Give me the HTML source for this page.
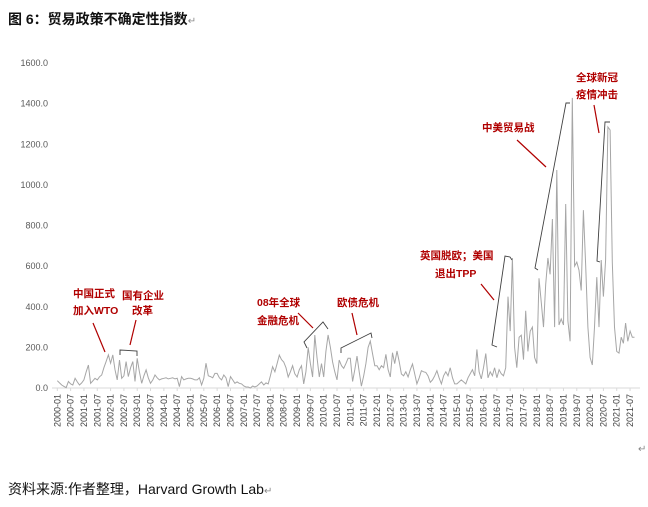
<!DOCTYPE html>
<html><head><meta charset="utf-8">
<style>
body{margin:0;background:#fff;width:648px;height:507px;overflow:hidden;font-family:"Liberation Sans","Noto Sans CJK SC",sans-serif;}
svg{position:absolute;left:0;top:0}
.t{position:absolute;}
</style></head><body>
<div class="t" style="left:8px;top:9px;font-size:14px;font-weight:bold;color:#111;">图 6：贸易政策不确定性指数<span style="font-weight:normal;font-size:10px;color:#888">↵</span></div>
<div class="t" style="left:8px;top:479px;font-size:14px;color:#111;">资料来源:作者整理，Harvard Growth Lab<span style="font-size:10px;color:#888">↵</span></div>
<div class="t" style="left:638px;top:444px;font-size:10px;color:#888">↵</div>
<svg id="chart" width="648" height="507"></svg>
<script>
const yTicks=[0,200,400,600,800,1000,1200,1400,1600];
const xTickLabels=[];
for(let y=2000;y<=2021;y++){xTickLabels.push(y+"-01");xTickLabels.push(y+"-07");}
const startYear=2000;
const values=[
36,25,15,8,2,32,20,15,48,30,15,25,
40,80,113,23,35,48,40,55,64,100,130,163,
122,163,90,40,138,48,60,130,56,100,130,32,
146,80,23,60,89,50,23,40,64,50,40,45,
48,50,45,48,50,45,48,7,56,40,45,48,
48,45,40,40,50,15,48,122,60,56,50,72,
72,50,40,64,50,7,56,40,23,30,23,20,
10,5,5,0,10,5,10,20,30,15,25,20,
60,105,80,120,162,140,128,100,54,80,110,70,
54,90,110,20,80,200,120,54,261,150,54,120,
54,180,261,200,128,80,40,138,110,97,120,146,
146,32,90,157,80,9,60,120,200,231,170,110,
110,90,110,100,166,90,54,174,120,182,130,69,
60,80,54,90,118,70,20,50,85,80,77,60,
28,40,60,85,50,20,60,80,60,100,50,20,
20,30,40,30,20,50,70,90,60,190,80,45,
100,170,50,80,60,100,50,90,70,60,100,450,
280,640,200,100,250,260,140,380,180,280,300,150,
120,540,420,300,510,640,560,832,300,1073,310,340,
310,906,330,230,1428,600,620,580,480,876,600,300,
150,113,300,546,300,630,450,630,1285,1270,620,300,
180,172,250,220,320,230,280,250,250];
const NS="http://www.w3.org/2000/svg";
const svg=document.getElementById('chart');
const X0=57.3,MW=2.22,Y0=388,YS=325/1600;
const xs=m=>X0+m*MW, ys=v=>Y0-v*YS;
function mk(t,a){const e=document.createElementNS(NS,t);for(const k in a)e.setAttribute(k,a[k]);svg.appendChild(e);return e;}
// axis
const ax=mk('line',{x1:52,y1:Y0,x2:640,y2:Y0,stroke:'#d9d9d9','stroke-width':1});


yTicks.forEach(v=>{
 const t=mk('text',{x:48,y:ys(v)+3,'text-anchor':'end','font-size':9,fill:'#595959','font-family':'Liberation Sans, sans-serif'});
 t.textContent=v.toFixed(1);
 
 
});
xTickLabels.forEach((lab,i)=>{
 const x=xs(i*6);
 const tk=mk('line',{x1:x,y1:Y0,x2:x,y2:Y0+3,stroke:'#d9d9d9'});
 
 
 const t=mk('text',{x:0,y:0,'text-anchor':'end','font-size':9,fill:'#404040','font-family':'Liberation Sans, sans-serif',transform:`translate(${x+3},${Y0+6}) rotate(-90)`});
 t.textContent=lab;
 
 
});
const pts=values.map((v,i)=>xs(i).toFixed(1)+','+ys(v).toFixed(1)).join(' ');
const pl=mk('polyline',{points:pts,fill:'none',stroke:'#a6a6a6','stroke-width':1});


// annotations
const red='#b00000';
const anns=[
 ['wto-annotation',[['中国正式',73,297],['加入WTO',73,314]],[93,323,105,352],[]],
 ['soe-reform-annotation',[['国有企业',122,299],['改革',132,314]],[136,320,130,345],[[120,355],[120,350],[137,351],[137,356]]],
 ['financial-crisis-annotation',[['08年全球',257,306],['金融危机',257,324]],[298,313,313,328],[[307,348],[304,342],[323,322],[328,329]]],
 ['euro-debt-annotation',[['欧债危机',337,306]],[352,313,357,335],[[341,353],[341,348],[371,333],[372,338]]],
 ['brexit-tpp-annotation',[['英国脱欧；美国',420,259],['退出TPP',435,277]],[481,284,494,300],[[497,347],[492,345],[505,256],[510,257],[512,260]]],
 ['trade-war-annotation',[['中美贸易战',482,131]],[517,140,546,167],[[538,270],[535,268],[566,103],[570,103]]],
 ['covid-annotation',[['全球新冠',576,81],['疫情冲击',576,98]],[594,105,599,133],[[600,262],[597,261],[605,122],[610,122]]]
];
anns.forEach(a=>{
 a[1].forEach(tx=>{
  const t=mk('text',{x:tx[1],y:tx[2],'font-size':10.5,'font-weight':'bold',fill:red,'font-family':'Liberation Sans, Noto Sans CJK SC, sans-serif'});
  t.textContent=tx[0];
  
  
 });
 const l=a[2];
 const ln=mk('line',{x1:l[0],y1:l[1],x2:l[2],y2:l[3],stroke:red,'stroke-width':1.2});
 
 
 if(a[3].length){
  const b=mk('polyline',{points:a[3].map(p=>p.join(',')).join(' '),fill:'none',stroke:'#404040','stroke-width':0.9});
  
  
 }
});
</script>
</body></html>
